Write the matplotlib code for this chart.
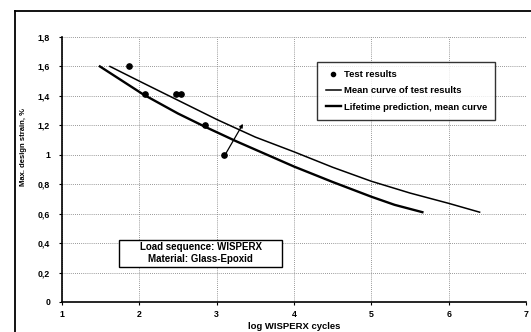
"""Fatigue curves for glass-epoxy under WISPERX load sequence."""
import matplotlib
matplotlib.use("Agg")
import matplotlib.pyplot as plt
from matplotlib.ticker import FuncFormatter
from matplotlib.lines import Line2D
from matplotlib.patches import Rectangle

plt.rcParams["font.family"] = ["Liberation Sans", "DejaVu Sans"]
plt.rcParams["font.weight"] = "bold"

# test results (log cycles, strain %)
test_x = [1.86, 2.07, 2.48, 2.54, 2.85, 3.10]
test_y = [1.60, 1.41, 1.41, 1.41, 1.20, 1.00]

# mean curve of test results
mean_x = [1.62, 2.00, 2.50, 3.00, 3.50, 4.00, 4.50, 5.00, 5.50, 6.00, 6.40]
mean_y = [1.60, 1.50, 1.37, 1.24, 1.12, 1.02, 0.915, 0.82, 0.74, 0.67, 0.61]

# lifetime prediction, mean curve
pred_x = [1.49, 2.05, 2.50, 2.85, 3.26, 4.00, 4.50, 5.00, 5.30, 5.66]
pred_y = [1.60, 1.41, 1.28, 1.19, 1.09, 0.92, 0.815, 0.715, 0.66, 0.61]

x_ticks = [1, 2, 3, 4, 5, 6, 7]
y_ticks = [0, 0.2, 0.4, 0.6, 0.8, 1.0, 1.2, 1.4, 1.6, 1.8]


def comma_fmt(v, _pos):
    s = f"{v:.1f}".rstrip("0").rstrip(".")
    return s.replace(".", ",")


fig = plt.figure(figsize=(5.31, 3.32), dpi=100)
ax = fig.add_axes([0.1168, 0.0904, 0.8738, 0.7982])

ax.plot(mean_x, mean_y, color="black", linewidth=1.1)
ax.plot(pred_x, pred_y, color="black", linewidth=1.7)
ax.plot(test_x, test_y, "o", color="black", markersize=3.8)

# arrow from test point towards mean curve
ax.annotate("", xy=(3.34, 1.21), xytext=(3.12, 1.01),
            arrowprops=dict(arrowstyle="-|>", color="black", lw=0.9,
                            mutation_scale=5, shrinkA=0, shrinkB=0))

ax.set_xlim(1, 7)
ax.set_ylim(0, 1.8)
ax.set_xticks(x_ticks)
ax.set_yticks(y_ticks)
ax.yaxis.set_major_formatter(FuncFormatter(comma_fmt))
ax.tick_params(labelsize=6.3, length=2.5, width=0.8, pad=6)
ax.tick_params(axis="x", pad=3.5)
ax.grid(True, color="#777777", linestyle=(0, (1, 1.5)), linewidth=0.6)
for side in ("top", "right"):
    ax.spines[side].set_visible(False)
for side in ("left", "bottom"):
    ax.spines[side].set_linewidth(1.2)

ax.set_xlabel("log WISPERX cycles", fontsize=6.8, fontweight="bold")
ax.xaxis.set_label_coords(0.5, -0.074)
ax.set_ylabel("Max. design strain, %", fontsize=5.5, fontweight="bold")
ax.yaxis.set_label_coords(-0.075, 0.585)

handles = [
    Line2D([], [], marker="o", linestyle="none", color="black", markersize=3),
    Line2D([], [], color="black", linewidth=1.1),
    Line2D([], [], color="black", linewidth=1.7),
]
labels = ["Test results", "Mean curve of test results",
          "Lifetime prediction, mean curve"]
leg = ax.legend(handles, labels, loc="upper left", bbox_to_anchor=(0.55, 0.906),
                fontsize=6.8, frameon=True, fancybox=False, edgecolor="black",
                borderpad=0.9, labelspacing=0.75, handlelength=1.6,
                handletextpad=0.3, borderaxespad=0)
leg.get_frame().set_linewidth(1.0)

ax.add_patch(Rectangle((0.123, 0.132), 0.351, 0.102, transform=ax.transAxes,
                       facecolor="white", edgecolor="black", linewidth=1.0,
                       zorder=4))
ax.text(0.2985, 0.183, "Load sequence: WISPERX\nMaterial: Glass-Epoxid",
        transform=ax.transAxes, ha="center", va="center", fontsize=7,
        fontweight="bold", linespacing=1.25, zorder=5)

# outer frame of the scanned chart
fig.add_artist(Line2D([0.028, 0.028], [0.0, 0.967], color="black", lw=1.3,
                      transform=fig.transFigure))
fig.add_artist(Line2D([0.028, 1.0], [0.967, 0.967], color="black", lw=1.3,
                      transform=fig.transFigure))

fig.savefig("out.png", dpi=100)
